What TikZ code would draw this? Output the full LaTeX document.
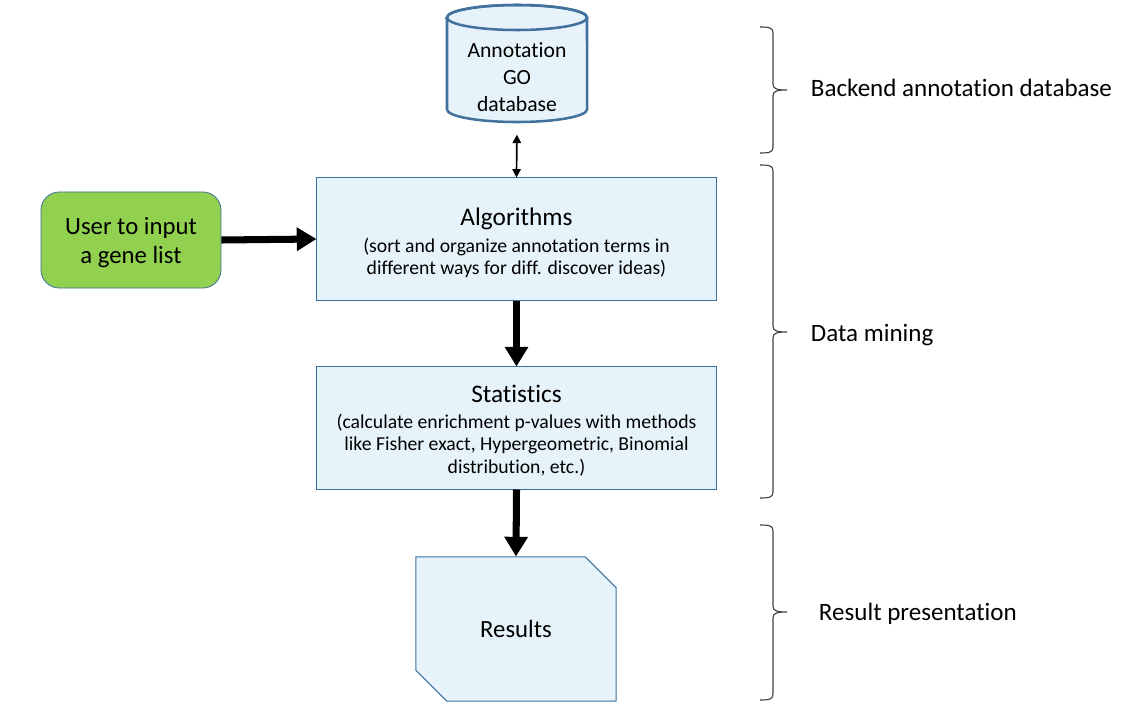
\documentclass[tikz,border=0pt]{standalone}
\usepackage{fontspec}
\setmainfont{Carlito}[Ligatures=CommonOff]
\usetikzlibrary{arrows.meta,shapes.misc}
\definecolor{boxblue}{HTML}{E7F3FA}
\definecolor{edgeblue}{HTML}{3A6F9E}
\definecolor{dbedge}{HTML}{41719C}
\definecolor{usergreen}{HTML}{92D050}

\begin{document}
\begin{tikzpicture}[x=0.025cm,y=-0.025cm,
  flowbox/.style={draw=edgeblue,fill=boxblue,line width=0.7pt,minimum width=9.975cm,
    minimum height=3.05cm,align=center,inner sep=0pt,font=\fontsize{14}{16}\selectfont},
  bigarrow/.style={line width=5pt,-{Triangle[length=14pt,width=16pt]}},
  sidebrace/.style={draw=black!75,line width=0.8pt},
  sidelabel/.style={anchor=west,font=\fontsize{17.8}{21}\selectfont}]
\useasboundingbox (0,0) rectangle (1132,716);
% database on top
\filldraw[draw=dbedge,fill=boxblue,line width=1.8pt] (447,17.5) -- (447,109.5)
  arc[start angle=180,end angle=360,x radius=1.75cm,y radius=0.3125cm] -- (587,17.5)
  arc[start angle=0,end angle=180,x radius=1.75cm,y radius=0.3125cm] -- cycle;
\draw[dbedge,line width=1.8pt] (517,17.5) ellipse[x radius=1.75cm,y radius=0.3125cm];
\coordinate (dbbase) at (517,122);
\node[align=center,inner sep=0pt,font=\fontsize{15.4}{19}\selectfont] (db) at (517,77)
  {Annotation\\GO\\database};
% main flow
\node[flowbox] (algo) at (516.5,239) {{\fontsize{18}{22}\selectfont\rule{0pt}{18pt}Algorithms}\\[3pt]
  (sort and organize annotation terms in\\different ways for diff. discover ideas)};
\node[flowbox] (stat) at (516.5,428) {{\fontsize{18}{22}\selectfont\rule{0pt}{16pt}Statistics}\\[2.5pt]
  (calculate enrichment p-values with methods\\like Fisher exact, Hypergeometric, Binomial\\
  distribution, etc.)};
\node[draw=dbedge,fill=usergreen,rounded corners=13pt,minimum width=4.5cm,minimum height=2.4cm,
  align=center,inner sep=0pt,line width=0.6pt,font=\fontsize{17.6}{20.6}\selectfont]
  (user) at (131,240) {\rule{0pt}{16pt}User to input\\a gene list};
\node[chamfered rectangle,chamfered rectangle corners={north east,south west},
  chamfered rectangle xsep=0.55cm,chamfered rectangle ysep=0.55cm,draw=edgeblue,fill=boxblue,
  line width=0.7pt,minimum width=5cm,minimum height=3.6cm,inner sep=0pt,
  font=\fontsize{17.6}{21}\selectfont] (res) at (516,629) {Results};
% connectors
\draw[line width=1.2pt,{Triangle[length=6pt,width=6pt]}-{Triangle[length=6pt,width=6pt]},
  shorten <=9pt] (dbbase) -- (algo.north);
\draw[bigarrow] (user.east) -- (algo.west);
\draw[bigarrow] (algo.south) -- (stat.north);
\draw[bigarrow] (stat.south) -- (res.north);
% braces and what they stand for
\draw[sidebrace] (760,27) .. controls (770,27) and (773,28) .. (773,33) -- (773,84)
  .. controls (773,89) and (777,90) .. (787,90) .. controls (777,90) and (773,91) .. (773,96)
  -- (773,147) .. controls (773,152) and (770,153) .. (760,153);
\draw[sidebrace] (760,165) .. controls (770,165) and (773,166) .. (773,171) -- (773,326)
  .. controls (773,331) and (777,332) .. (787,332) .. controls (777,332) and (773,333) .. (773,338)
  -- (773,492) .. controls (773,497) and (770,498) .. (760,498);
\draw[sidebrace] (760,525) .. controls (770,525) and (773,526) .. (773,531) -- (773,606)
  .. controls (773,611) and (777,612) .. (787,612) .. controls (777,612) and (773,613) .. (773,618)
  -- (773,694) .. controls (773,699) and (770,700) .. (760,700);
\node[sidelabel] (lback) at (806,88) {Backend annotation database};
\node[sidelabel] (lmine) at (806,335) {Data mining};
\node[sidelabel] (lres) at (814,614) {Result presentation};
\end{tikzpicture}
\end{document}
